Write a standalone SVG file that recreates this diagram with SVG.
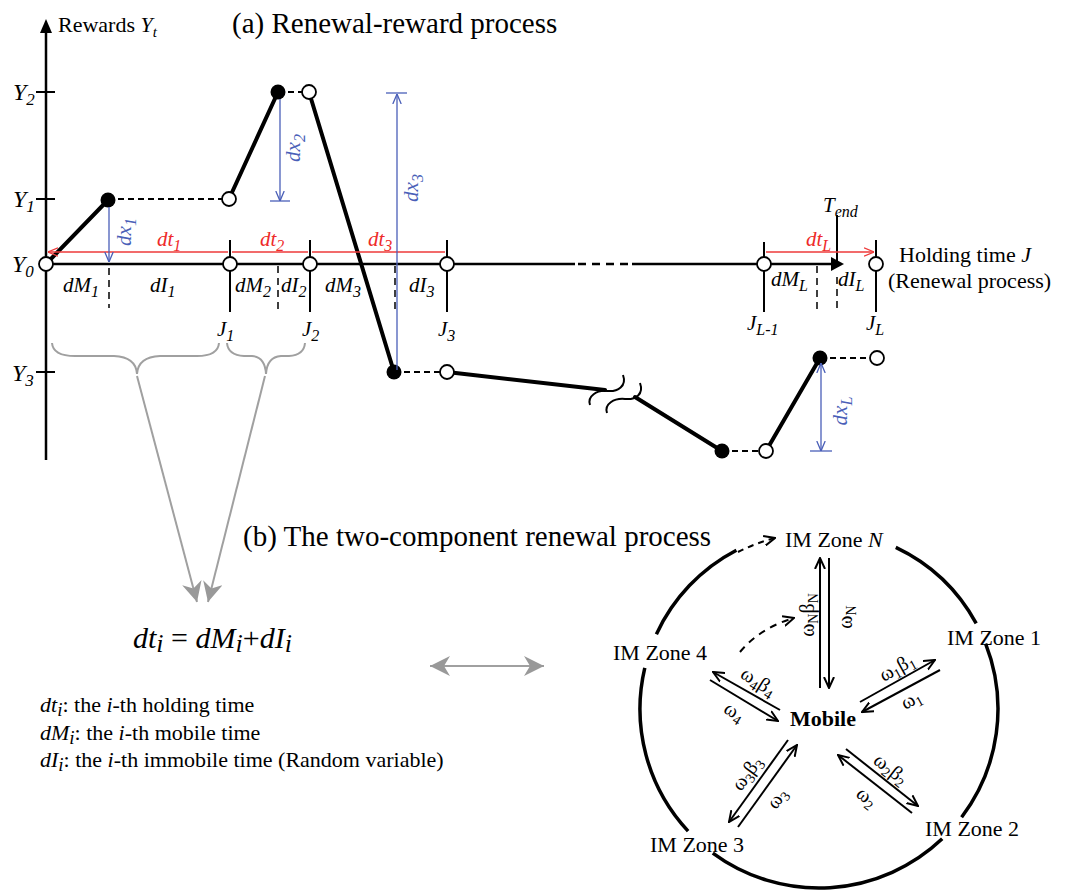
<svg xmlns="http://www.w3.org/2000/svg" width="1070" height="891" viewBox="0 0 1070 891">
<defs>
<style>
text{font-family:"Liberation Serif","Times New Roman",serif;fill:#000}
.it{font-style:italic}
.lbl{font-size:21px}
.ylbl{font-size:24px;font-style:italic}
.thick{stroke:#000;stroke-width:4;fill:none;stroke-linecap:round}
.dash{stroke:#000;stroke-width:2;stroke-dasharray:6 4;fill:none}
.vdash{stroke:#000;stroke-width:1.5;stroke-dasharray:7 5;fill:none}
.axis{stroke:#000;stroke-width:2.5;fill:none}
.tick{stroke:#000;stroke-width:2;fill:none}
.open{fill:#fff;stroke:#000;stroke-width:1.8}
.dot{fill:#000}
.red{stroke:#ee3b3b;stroke-width:1.3;fill:none}
.redt{fill:#ee2a2a;font-style:italic;font-size:21px}
.blue{stroke:#4a5fb8;stroke-width:1.3;fill:none}
.bluet{fill:#4a5fb8;font-style:italic;font-size:21px}
.gray{stroke:#a0a0a0;stroke-width:2;fill:none}
.arr{stroke:#000;stroke-width:2;fill:none}
.ring{stroke:#000;stroke-width:3.5;fill:none}
.zone{font-size:22px}
.w{font-size:20px}
.def{font-size:22px}
</style>
<marker id="mr" viewBox="0 0 10 10" refX="10" refY="5" markerWidth="10" markerHeight="10" markerUnits="userSpaceOnUse" orient="auto-start-reverse"><path d="M0,0.8 L10,5 L0,9.2" fill="none" stroke="#ee3b3b" stroke-width="1.3"/></marker>
<marker id="mb" viewBox="0 0 10 10" refX="10" refY="5" markerWidth="10" markerHeight="10" markerUnits="userSpaceOnUse" orient="auto-start-reverse"><path d="M0,0.8 L10,5 L0,9.2" fill="none" stroke="#4a5fb8" stroke-width="1.3"/></marker>
<marker id="mk" viewBox="0 0 12 12" refX="11" refY="6" markerWidth="12" markerHeight="12" markerUnits="userSpaceOnUse" orient="auto-start-reverse"><path d="M0,1 L11,6 L0,11" fill="none" stroke="#000" stroke-width="2"/></marker>
<marker id="mg" viewBox="0 0 20 20" refX="20" refY="10" markerWidth="20" markerHeight="20" markerUnits="userSpaceOnUse" orient="auto-start-reverse"><path d="M0,0 L20,10 L0,20 L6,10 z" fill="#999"/></marker>
</defs>
<rect width="1070" height="891" fill="#fff"/>

<g id="title-a"><text x="232" y="33" font-size="29">(a) Renewal-reward process</text></g>
<g id="title-b"><text x="243" y="546" font-size="29">(b) The two-component renewal process</text></g>

<g id="axes">
<path class="axis" d="M46,31 V460"/>
<polygon points="46,19 40,33 52,33" fill="#000"/>
<path class="axis" d="M46,264 H575"/>
<path class="axis" d="M578,264 H630" stroke-dasharray="8 6"/>
<path class="axis" d="M632,264 H833"/>
<polygon points="831,257 844,264 831,271" fill="#000"/>
<path class="tick" d="M36,92 H55 M36,199 H55 M36,372 H55"/>
<path class="tick" d="M230,240 V312 M310,240 V312 M447,240 V312 M764,242 V312 M876,240 V312 M837,215 V262"/>
<path class="vdash" d="M109,268 V308 M278,266 V310 M395,266 V310 M817,266 V310 M837,277 V310"/>
<text x="58" y="32" font-size="22">Rewards <tspan class="it">Y</tspan><tspan class="it" font-size="15" dy="5">t</tspan></text>
<text class="ylbl" x="13" y="100">Y<tspan font-size="17" dy="5">2</tspan></text>
<text class="ylbl" x="13" y="207">Y<tspan font-size="17" dy="5">1</tspan></text>
<text class="ylbl" x="12" y="272">Y<tspan font-size="17" dy="5">0</tspan></text>
<text class="ylbl" x="12" y="381">Y<tspan font-size="17" dy="5">3</tspan></text>
<text x="899" y="262" font-size="22">Holding time <tspan class="it">J</tspan></text>
<text x="888" y="288" font-size="22">(Renewal process)</text>
</g>

<g id="interval-labels">
<text class="lbl it" x="63" y="292">dM<tspan font-size="16" dy="5">1</tspan></text>
<text class="lbl it" x="150" y="292">dI<tspan font-size="16" dy="5">1</tspan></text>
<text class="lbl it" x="235" y="292">dM<tspan font-size="16" dy="5">2</tspan></text>
<text class="lbl it" x="281" y="292">dI<tspan font-size="16" dy="5">2</tspan></text>
<text class="lbl it" x="325" y="292">dM<tspan font-size="16" dy="5">3</tspan></text>
<text class="lbl it" x="409" y="292">dI<tspan font-size="16" dy="5">3</tspan></text>
<text class="lbl it" x="771" y="286">dM<tspan font-size="16" dy="5">L</tspan></text>
<text class="lbl it" x="838" y="286">dI<tspan font-size="16" dy="5">L</tspan></text>
<text class="lbl it" x="217" y="336">J<tspan font-size="16" dy="5">1</tspan></text>
<text class="lbl it" x="302" y="336">J<tspan font-size="16" dy="5">2</tspan></text>
<text class="lbl it" x="438" y="336">J<tspan font-size="16" dy="5">3</tspan></text>
<text class="lbl it" x="747" y="330">J<tspan font-size="16" dy="5">L-1</tspan></text>
<text class="lbl it" x="866" y="330">J<tspan font-size="16" dy="5">L</tspan></text>
<text class="lbl it" x="823" y="212">T<tspan font-size="16" dy="5">end</tspan></text>
</g>

<g id="reward-path">
<path class="thick" d="M46,264 L108,200 M229,199 L278,92 M309,92 L394,372 M447,372 L605,390 M635,397 L722,451 M766,451 L820,358"/>
<path class="dash" d="M108,199 H229 M278,92 H309 M394,372 H447 M722,451 H766 M820,358 H877"/>
<path stroke="#000" stroke-width="2" fill="none" d="M590,405 C587,396 597,390 607,391 C618,392 627,386 623,375 M607,413 C604,404 614,398 625,399 C636,400 644,394 640,383"/>
<circle class="open" cx="46" cy="264" r="7"/>
<circle class="open" cx="229" cy="199" r="7"/>
<circle class="open" cx="309" cy="92" r="7"/>
<circle class="open" cx="230" cy="264" r="7"/>
<circle class="open" cx="310" cy="264" r="7"/>
<circle class="open" cx="447" cy="264" r="7"/>
<circle class="open" cx="764" cy="264" r="7"/>
<circle class="open" cx="876" cy="264" r="7"/>
<circle class="open" cx="447" cy="372" r="7"/>
<circle class="open" cx="766" cy="451" r="7"/>
<circle class="open" cx="877" cy="358" r="7"/>
<circle class="dot" cx="108" cy="200" r="7.5"/>
<circle class="dot" cx="278" cy="92" r="7.5"/>
<circle class="dot" cx="394" cy="372" r="7.5"/>
<circle class="dot" cx="722" cy="451" r="7.5"/>
<circle class="dot" cx="820" cy="358" r="7.5"/>
</g>

<g id="holding-times">
<path class="red" d="M48,252 H228 M232,252 H308 M312,252 H445 M766,252 H874" marker-start="url(#mr)" marker-end="url(#mr)"/>
<text class="redt" x="157" y="246">dt<tspan font-size="16" dy="5">1</tspan></text>
<text class="redt" x="260" y="246">dt<tspan font-size="16" dy="5">2</tspan></text>
<text class="redt" x="368" y="246">dt<tspan font-size="16" dy="5">3</tspan></text>
<text class="redt" x="806" y="246">dt<tspan font-size="16" dy="5">L</tspan></text>
</g>

<g id="jumps">
<path class="blue" d="M109,207 V262" marker-end="url(#mb)"/>
<path class="blue" d="M280,99 V201" marker-end="url(#mb)"/>
<path class="blue" d="M270,201 H290"/>
<path class="blue" d="M397,370 V94" marker-end="url(#mb)"/>
<path class="blue" d="M386,93 H407"/>
<path class="blue" d="M821,363 V451" marker-start="url(#mb)" marker-end="url(#mb)"/>
<path class="blue" d="M810,451 H832"/>
<text class="bluet" x="131" y="232" text-anchor="middle" transform="rotate(-90 131 232)">dx<tspan font-size="16" dy="5">1</tspan></text>
<text class="bluet" x="300" y="148" text-anchor="middle" transform="rotate(-90 300 148)">dx<tspan font-size="16" dy="5">2</tspan></text>
<text class="bluet" x="418" y="188" text-anchor="middle" transform="rotate(-90 418 188)">dx<tspan font-size="16" dy="5">3</tspan></text>
<text class="bluet" x="847" y="411" text-anchor="middle" transform="rotate(-90 847 411)">dx<tspan font-size="16" dy="5">L</tspan></text>
</g>

<g id="braces">
<path class="gray" d="M52,343 Q53,356 75,356 L114,356 Q136,357 137,374 Q138,357 160,356 L197,356 Q218,356 219,343"/>
<path class="gray" d="M227,343 Q228,355 244,356 L252,356 Q265,357 266,374 Q267,357 281,356 L289,356 Q304,355 305,343"/>
<path class="gray" d="M137,376 L197,602" marker-end="url(#mg)"/>
<path class="gray" d="M265,376 L208,602" marker-end="url(#mg)"/>
<path class="gray" d="M430,666 H544" marker-start="url(#mg)" marker-end="url(#mg)"/>
</g>

<g id="formula">
<text x="133" y="648" font-size="30"><tspan class="it">dt</tspan><tspan class="it" font-size="26" dy="4">i</tspan><tspan dy="-4"> = </tspan><tspan class="it">dM</tspan><tspan class="it" font-size="26" dy="4">i</tspan><tspan dy="-4">+</tspan><tspan class="it">dI</tspan><tspan class="it" font-size="26" dy="4">i</tspan></text>
<text class="def" x="40" y="712"><tspan class="it">dt</tspan><tspan class="it" font-size="19" dy="4">i</tspan><tspan dy="-4">: the </tspan><tspan class="it">i</tspan>-th holding time</text>
<text class="def" x="40" y="740"><tspan class="it">dM</tspan><tspan class="it" font-size="19" dy="4">i</tspan><tspan dy="-4">: the </tspan><tspan class="it">i</tspan>-th mobile time</text>
<text class="def" x="40" y="767"><tspan class="it">dI</tspan><tspan class="it" font-size="19" dy="4">i</tspan><tspan dy="-4">: the </tspan><tspan class="it">i</tspan>-th immobile time (Random variable)</text>
</g>

<g id="boundary">
<path class="ring" d="M895.8,547.3 A179,179 0 0 1 976.2,623.3 M985.6,643.7 A179,179 0 0 1 961.6,817.2 M942.2,838.8 A179,179 0 0 1 712.8,853.1 M688.1,831.1 A179,179 0 0 1 644.8,667.8 M656.4,634.2 A179,179 0 0 1 736.4,550.2"/>
</g>

<g id="zone-N"><text class="zone" x="785" y="547">IM Zone <tspan class="it">N</tspan></text></g>
<g id="zone-1"><text class="zone" x="947" y="645">IM Zone 1</text></g>
<g id="zone-2"><text class="zone" x="925" y="836">IM Zone 2</text></g>
<g id="zone-3"><text class="zone" x="650" y="852">IM Zone 3</text></g>
<g id="zone-4"><text class="zone" x="613" y="660">IM Zone 4</text></g>
<g id="mobile"><text x="790" y="726" font-size="22" font-weight="bold">Mobile</text></g>

<g id="connectors">
<path class="arr" d="M738,552 A179,179 0 0 1 775,538" stroke-width="2.5" stroke-dasharray="6 5" marker-end="url(#mk)"/>
<path class="arr" d="M740,652 Q760,628 794,618" stroke-width="2.5" stroke-dasharray="7 6" marker-end="url(#mk)"/>
<path class="arr" d="M820,688 V558" marker-end="url(#mk)"/>
<path class="arr" d="M829,558 V688" marker-end="url(#mk)"/>
<path class="arr" d="M860,702 L935,660" marker-end="url(#mk)"/>
<path class="arr" d="M940,670 L862,712" marker-end="url(#mk)"/>
<path class="arr" d="M780,710 L713,672" marker-end="url(#mk)"/>
<path class="arr" d="M710,680 L778,721" marker-end="url(#mk)"/>
<path class="arr" d="M788,740 L729,822" marker-end="url(#mk)"/>
<path class="arr" d="M738,827 L797,745" marker-end="url(#mk)"/>
<path class="arr" d="M846,749 L918,806" marker-end="url(#mk)"/>
<path class="arr" d="M912,813 L838,755" marker-end="url(#mk)"/>
<text class="w" x="814" y="615" text-anchor="middle" transform="rotate(-90 814 615)">ω<tspan font-size="14" dy="4">N</tspan><tspan dy="-4">β</tspan><tspan font-size="14" dy="4">N</tspan></text>
<text class="w" x="852" y="617" text-anchor="middle" transform="rotate(-90 852 617)">ω<tspan font-size="14" dy="4">N</tspan></text>
<text class="w" x="900" y="673" text-anchor="middle" transform="rotate(-29 900 673)">ω<tspan font-size="14" dy="4">1</tspan><tspan dy="-4">β</tspan><tspan font-size="14" dy="4">1</tspan></text>
<text class="w" x="914" y="705" text-anchor="middle" transform="rotate(-29 914 705)">ω<tspan font-size="14" dy="4">1</tspan></text>
<text class="w" x="755" y="687" text-anchor="middle" transform="rotate(32 755 687)">ω<tspan font-size="14" dy="4">4</tspan><tspan dy="-4">β</tspan><tspan font-size="14" dy="4">4</tspan></text>
<text class="w" x="731" y="717" text-anchor="middle" transform="rotate(32 731 717)">ω<tspan font-size="14" dy="4">4</tspan></text>
<text class="w" x="752" y="777" text-anchor="middle" transform="rotate(-54 752 777)">ω<tspan font-size="14" dy="4">3</tspan><tspan dy="-4">β</tspan><tspan font-size="14" dy="4">3</tspan></text>
<text class="w" x="782" y="802" text-anchor="middle" transform="rotate(-54 782 802)">ω<tspan font-size="14" dy="4">3</tspan></text>
<text class="w" x="887" y="774" text-anchor="middle" transform="rotate(38 887 774)">ω<tspan font-size="14" dy="4">2</tspan><tspan dy="-4">β</tspan><tspan font-size="14" dy="4">2</tspan></text>
<text class="w" x="863" y="802" text-anchor="middle" transform="rotate(38 863 802)">ω<tspan font-size="14" dy="4">2</tspan></text>
</g>
</svg>
